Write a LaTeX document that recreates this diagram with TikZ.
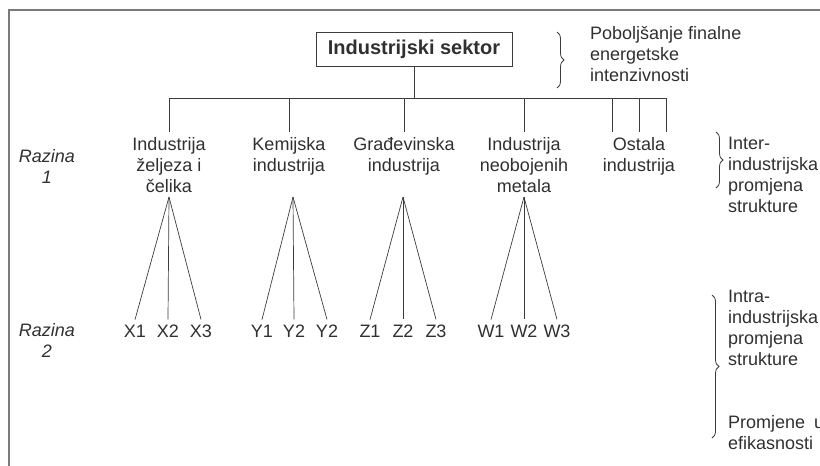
\documentclass[tikz,border=0pt]{standalone}
\usepackage{fontspec}
\setmainfont{Liberation Sans}
\usetikzlibrary{decorations.pathreplacing}
\definecolor{ink}{HTML}{303030}
\definecolor{linec}{HTML}{3C3C3C}
\definecolor{framec}{HTML}{7A7A7A}
\tikzset{
  txt/.style={font={\fontsize{18}{21}\selectfont}, text=ink, inner sep=0pt},
  lvl/.style={txt, align=center, anchor=north, outer ysep=5pt},
  leaf/.style={txt, anchor=base, outer ysep=5pt},
  side/.style={txt, align=left, anchor=north west},
  razina/.style={txt, align=center, anchor=north, font={\fontsize{18}{21}\selectfont\itshape}},
  conn/.style={draw=linec, line width=0.9pt},
  bracec/.style={draw=linec, line width=0.8pt, decorate, decoration={brace, amplitude=7pt}}
}
\begin{document}
\begin{tikzpicture}[x=1pt,y=-1pt]
\useasboundingbox (0,0) rectangle (820,466);
% frame
\draw[framec, line width=1.4pt] (9,480) -- (9,10) -- (840,10);
% title
\node[draw=linec, line width=0.9pt, text=ink, minimum width=196pt, minimum height=34pt, inner sep=0pt,
      font={\fontsize{20}{24}\selectfont\bfseries}] (title) at (414,49.5) {Industrijski sektor};
% bus
\coordinate (busL) at (169,98);
\coordinate (busR) at (666,98);
\coordinate (busT) at (414,98);
\draw[conn] (busL) -- (busR);
\draw[conn] (title.south) -- (busT);
% level 1
\node[lvl] (n1) at (169,132) {Industrija\\željeza i\\čelika};
\node[lvl] (n2) at (289,132) {Kemijska\\industrija};
\node[lvl] (n3) at (404,132) {Građevinska\\industrija};
\node[lvl] (n4) at (524,132) {Industrija\\neobojenih\\metala};
\node[lvl] (n5) at (639,132) {Ostala\\industrija};
\coordinate (o1) at (612,132);
\coordinate (o3) at (666,132);
\foreach \n in {n1,n2,n3,n4,n5} \draw[conn] (\n.north |- busL) -- (\n.north);
\draw[conn] (o1 |- busL) -- (o1);
\draw[conn] (o3 |- busL) -- (o3);
% apexes
\coordinate (a1) at (169,197);
\coordinate (a2) at (293,197);
\coordinate (a3) at (403,197);
\coordinate (a4) at (524,197);
% leaves
\node[leaf] (x1) at (135,337) {X1};
\node[leaf] (x2) at (168,337) {X2};
\node[leaf] (x3) at (201,337) {X3};
\node[leaf] (y1) at (262,337) {Y1};
\node[leaf] (y2) at (294,337) {Y2};
\node[leaf] (y3) at (327,337) {Y2};
\node[leaf] (z1) at (370,337) {Z1};
\node[leaf] (z2) at (403,337) {Z2};
\node[leaf] (z3) at (436,337) {Z3};
\node[leaf] (w1) at (491,337) {W1};
\node[leaf] (w2) at (524,337) {W2};
\node[leaf] (w3) at (557,337) {W3};
\foreach \a/\l in {a1/x1,a1/x2,a1/x3,a2/y1,a2/y2,a2/y3,a3/z1,a3/z2,a3/z3,a4/w1,a4/w2,a4/w3}
  \draw[conn, line width=0.7pt] (\a) -- (\l.north);
% razina labels
\node[razina] (r1) at (47,149) {Razina\\1};
\node[razina] (r2) at (47,323) {Razina\\2};
% braces
\draw[bracec] (557,32) -- (557,88);
\draw[bracec] (716,132) -- (716,188);
\draw[bracec] (712,295) -- (712,438);
\node[side] (s1) at (590,26) {Poboljšanje finalne\\energetske\\intenzivnosti};
\node[side] (s2) at (728,137) {Inter-\\industrijska\\promjena\\strukture};
\node[side] (s3) at (728,290) {Intra-\\industrijska\\promjena\\strukture};
\node[side] (s4) at (728,415) {Promjene\hspace{9pt}u\\efikasnosti};
\end{tikzpicture}
\end{document}
